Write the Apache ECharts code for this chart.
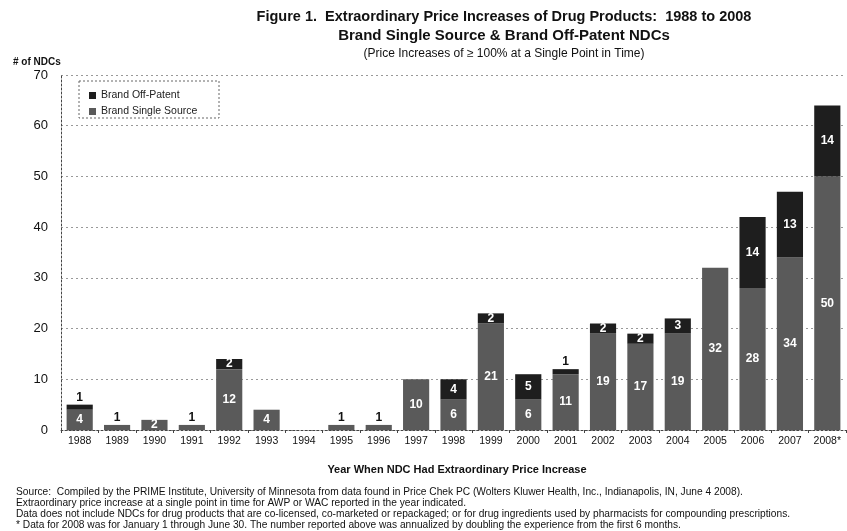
<!DOCTYPE html>
<html><head><meta charset="utf-8">
<script src="https://cdn.jsdelivr.net/npm/echarts@6/dist/echarts.min.js"></script>
<style>html,body{margin:0;padding:0;background:#fff}#c{width:847px;height:531px}</style>
</head><body><div id="c"></div>
<script>
const years = ['1988','1989','1990','1991','1992','1993','1994','1995','1996','1997','1998','1999','2000','2001','2002','2003','2004','2005','2006','2007','2008*'];
const singleSource = [4,1,2,1,12,4,0,1,1,10,6,21,6,11,19,17,19,32,28,34,50];
const offPatent = [1,0,0,0,2,0,0,0,0,0,4,2,5,1,2,2,3,0,14,13,14];
const yTicks = [0,10,20,30,40,50,60,70];

function items(vals){
  return vals.map(v => {
    if (v === 0) return {value: v, label: {show: false}};
    if (v <= 1) return {value: v, label: {show: true, position: 'top', color: '#111', distance: 1}};
    return {value: v};
  });
}
const chart = echarts.init(document.getElementById('c'));
const ff = 'Liberation Sans, Arial, sans-serif';
chart.setOption({
  animation: false,
  textStyle: {fontFamily: ff},
  title: [
    {text: 'Figure 1.  Extraordinary Price Increases of Drug Products:  1988 to 2008', left: 499, top: 4, textAlign: 'center', textStyle: {fontSize: 14.5, fontWeight: 'bold', color: '#111', fontFamily: ff}},
    {text: 'Brand Single Source & Brand Off-Patent NDCs', left: 499, top: 23, textAlign: 'center', textStyle: {fontSize: 15, fontWeight: 'bold', color: '#111', fontFamily: ff}},
    {text: '(Price Increases of \u2265 100% at a Single Point in Time)', left: 499, top: 43, textAlign: 'center', textStyle: {fontSize: 12, fontWeight: 'normal', color: '#111', fontFamily: ff}},
    {text: '# of NDCs', left: 8, top: 52, textStyle: {fontSize: 10, fontWeight: 'bold', color: '#111', fontFamily: ff}},
    {text: 'Year When NDC Had Extraordinary Price Increase', left: 452, top: 459, textAlign: 'center', textStyle: {fontSize: 11, fontWeight: 'bold', color: '#111', fontFamily: ff}},
    {text: 'Source:  Compiled by the PRIME Institute, University of Minnesota from data found in Price Chek PC (Wolters Kluwer Health, Inc., Indianapolis, IN, June 4 2008).\nExtraordinary price increase at a single point in time for AWP or WAC reported in the year indicated.\nData does not include NDCs for drug products that are co-licensed, co-marketed or repackaged; or for drug ingredients used by pharmacists for compounding prescriptions.\n* Data for 2008 was for January 1 through June 30. The number reported above was annualized by doubling the experience from the first 6 months.',
     left: 11, top: 482, textStyle: {fontSize: 10.2, fontWeight: 'normal', color: '#111', lineHeight: 11, fontFamily: ff}}
  ],
  legend: {
    orient: 'vertical', left: 84, top: 85, itemWidth: 7, itemHeight: 7, itemGap: 5, icon: 'rect',
    textStyle: {fontSize: 10.5, color: '#222', fontFamily: ff},
    data: ['Brand Off-Patent', 'Brand Single Source']
  },
  graphic: [{type: 'rect', shape: {x: 79, y: 81, width: 140, height: 37}, style: {fill: 'none', stroke: '#666', lineWidth: 1, lineDash: [2,2]}, z: 10}],
  grid: {left: 61, right: 1, top: 75, bottom: 101},
  xAxis: {
    type: 'category', data: years,
    axisLine: {lineStyle: {color: '#444', type: [2,2]}},
    axisTick: {show: true, length: 3, lineStyle: {color: '#444'}},
    axisLabel: {fontSize: 10.5, color: '#111', margin: 6, fontFamily: ff}
  },
  yAxis: {
    type: 'value', min: 0, max: 70, interval: 10,
    axisLine: {show: true, lineStyle: {color: '#444', type: [2,2]}},
    axisTick: {show: false},
    axisLabel: {fontSize: 13, color: '#111', margin: 13, fontFamily: ff, formatter: v => yTicks.includes(v) ? String(v) : ''},
    splitLine: {lineStyle: {color: '#999', type: [2,3]}}
  },
  series: [
    {name: 'Brand Single Source', type: 'bar', stack: 's', barCategoryGap: '30%', data: items(singleSource),
     itemStyle: {color: '#5a5a5a'},
     label: {show: true, position: 'inside', color: '#fff', fontWeight: 'bold', fontSize: 12, fontFamily: ff}},
    {name: 'Brand Off-Patent', type: 'bar', stack: 's', data: items(offPatent),
     itemStyle: {color: '#1e1e1e'},
     label: {show: true, position: 'inside', color: '#fff', fontWeight: 'bold', fontSize: 12, fontFamily: ff}}
  ]
});
</script></body></html>
